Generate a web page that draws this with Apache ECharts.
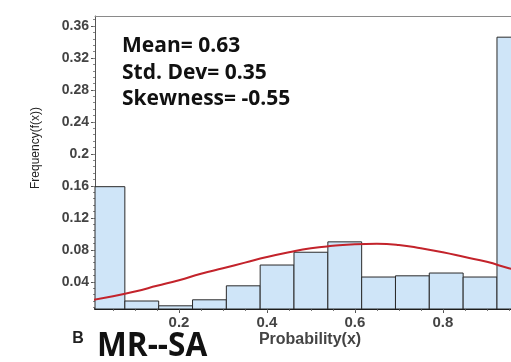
<!DOCTYPE html>
<html>
<head>
<meta charset="utf-8">
<script src="https://cdn.jsdelivr.net/npm/echarts@6/dist/echarts.min.js"></script>
<style>
html,body{margin:0;padding:0;background:#fff;}
#c{width:511px;height:362px;}
</style>
</head>
<body>
<div id="c"></div>
<script>
// Histogram bins (probability ranges) and relative frequencies
var binStarts = [0, 0.0769, 0.1538, 0.2308, 0.3077, 0.3846, 0.4615, 0.5385, 0.6154, 0.6923, 0.7692, 0.8462, 0.9231];
var binEnds   = [0.0769, 0.1538, 0.2308, 0.3077, 0.3846, 0.4615, 0.5385, 0.6154, 0.6923, 0.7692, 0.8462, 0.9231, 1.0];
var binFreq   = [0.159, 0.016, 0.010, 0.0175, 0.035, 0.061, 0.077, 0.090, 0.046, 0.0475, 0.051, 0.046, 0.346];

// Fitted curve
var curveX = [0, 0.05, 0.1, 0.15, 0.2, 0.25, 0.3, 0.35, 0.4, 0.45, 0.5, 0.55, 0.6, 0.65, 0.7, 0.75, 0.8, 0.85, 0.9, 0.95, 1.0];
var curveY = [0.017, 0.022, 0.028, 0.035, 0.042, 0.050, 0.057, 0.064, 0.071, 0.077, 0.082, 0.085, 0.087, 0.0875, 0.086, 0.082, 0.077, 0.071, 0.065, 0.057, 0.050];

// Tick labels
var yTicks = [0.04, 0.08, 0.12, 0.16, 0.2, 0.24, 0.28, 0.32, 0.36];
var xTicks = [0.2, 0.4, 0.6, 0.8];

var statsLines = ['Mean= 0.63', 'Std. Dev= 0.35', 'Skewness= -0.55'];
var panelLetter = 'B';
var panelTitle = 'MR--SA';
var xName = 'Probability(x)';
var yName = 'Frequency(f(x))';

var yMin = 0.006, yMax = 0.3725, xMin = 0.009, xMax = 0.955;
var yMinor = [];
for (var i = 1; i * 0.008 < yMax; i++) { var v = +(i * 0.008).toFixed(3); if (v > yMin) yMinor.push(v); }
var xMinor = [];
for (var j = 1; j * 0.05 < xMax; j++) { xMinor.push(+(j * 0.05).toFixed(2)); }

var barData = binStarts.map(function (s, k) { return [s, binEnds[k], binFreq[k]]; });
var lineData = curveX.map(function (x, k) { return [x, curveY[k]]; });

function fmt(v) { return String(parseFloat((+v).toFixed(2))); }

var chart = echarts.init(document.getElementById('c'), null, { renderer: 'canvas' });
var labelStyle = { fontFamily: 'Liberation Sans', fontWeight: 'bold', color: '#444' };

chart.setOption({
  animation: false,
  backgroundColor: '#fff',
  grid: { left: 95, top: 16, bottom: 53, right: 0 },
  xAxis: [{
    type: 'value', min: xMin, max: xMax,
    axisLine: { lineStyle: { color: '#111', width: 2 } },
    splitLine: { show: false },
    axisTick: { show: true, customValues: xTicks, length: 4, lineStyle: { color: '#555' } },
    axisLabel: Object.assign({ customValues: xTicks, formatter: fmt, fontSize: 15, margin: 6 }, labelStyle)
  }, {
    type: 'value', min: xMin, max: xMax, position: 'bottom',
    axisLine: { show: false }, splitLine: { show: false },
    axisTick: { show: true, customValues: xMinor, length: 2, lineStyle: { color: '#777' } },
    axisLabel: { show: false }
  }, {
    type: 'value', min: xMin, max: xMax, position: 'top',
    axisLine: { show: true, lineStyle: { color: '#8a8a8a', width: 1 } }, splitLine: { show: false },
    axisTick: { show: false }, axisLabel: { show: false }
  }],
  yAxis: [{
    type: 'value', min: yMin, max: yMax,
    axisLine: { show: true, lineStyle: { color: '#555', width: 1 } },
    splitLine: { show: false },
    axisTick: { show: true, customValues: yTicks, length: 4, lineStyle: { color: '#555' } },
    axisLabel: Object.assign({ customValues: yTicks, formatter: fmt, fontSize: 14, margin: 6 }, labelStyle)
  }, {
    type: 'value', min: yMin, max: yMax, position: 'left',
    axisLine: { show: false }, splitLine: { show: false },
    axisTick: { show: true, customValues: yMinor, length: 2, lineStyle: { color: '#888' } },
    axisLabel: { show: false }
  }],
  series: [{
    type: 'custom',
    xAxisIndex: 0, yAxisIndex: 0,
    data: barData,
    renderItem: function (params, api) {
      var p0 = api.coord([api.value(0), api.value(2)]);
      var p1 = api.coord([api.value(1), 0]);
      var rect = { x: p0[0], y: p0[1], width: p1[0] - p0[0], height: p1[1] - p0[1] };
      var cs = params.coordSys;
      var clipped = echarts.graphic.clipRectByRect(rect, { x: cs.x, y: cs.y - 2, width: cs.width + 3, height: cs.height + 2 });
      if (!clipped) return;
      return {
        type: 'rect', shape: clipped,
        style: { fill: '#cfe5f8', stroke: '#2a2a2a', lineWidth: 1 }
      };
    },
    z: 2
  }, {
    type: 'line',
    xAxisIndex: 0, yAxisIndex: 0,
    data: lineData, smooth: true, showSymbol: false,
    lineStyle: { color: '#c3232b', width: 2 },
    clip: true, z: 3
  }],
  graphic: [
    { type: 'text', left: 122, top: 33, style: { text: statsLines.join('\n'), font: 'bold 21px "Open Sans"', lineHeight: 26.5, fill: '#111' } },
    { type: 'text', x: 36, y: 148, rotation: Math.PI / 2, style: { text: yName, font: '12px "Liberation Sans"', fill: '#222', align: 'center', verticalAlign: 'middle' } },
    { type: 'text', x: 310, y: 340, style: { text: xName, font: 'bold 16px "Liberation Sans"', fill: '#444', align: 'center', verticalAlign: 'middle' } },
    { type: 'text', x: 78, y: 339, style: { text: panelLetter, font: 'bold 16px "Liberation Sans"', fill: '#222', align: 'center', verticalAlign: 'middle' } },
    { type: 'text', x: 97, y: 346, scaleX: 0.93, originX: 0, originY: 0, style: { text: panelTitle, font: 'bold 34px "Open Sans"', fill: '#111', align: 'left', verticalAlign: 'middle' } }
  ]
});
</script>
</body>
</html>
